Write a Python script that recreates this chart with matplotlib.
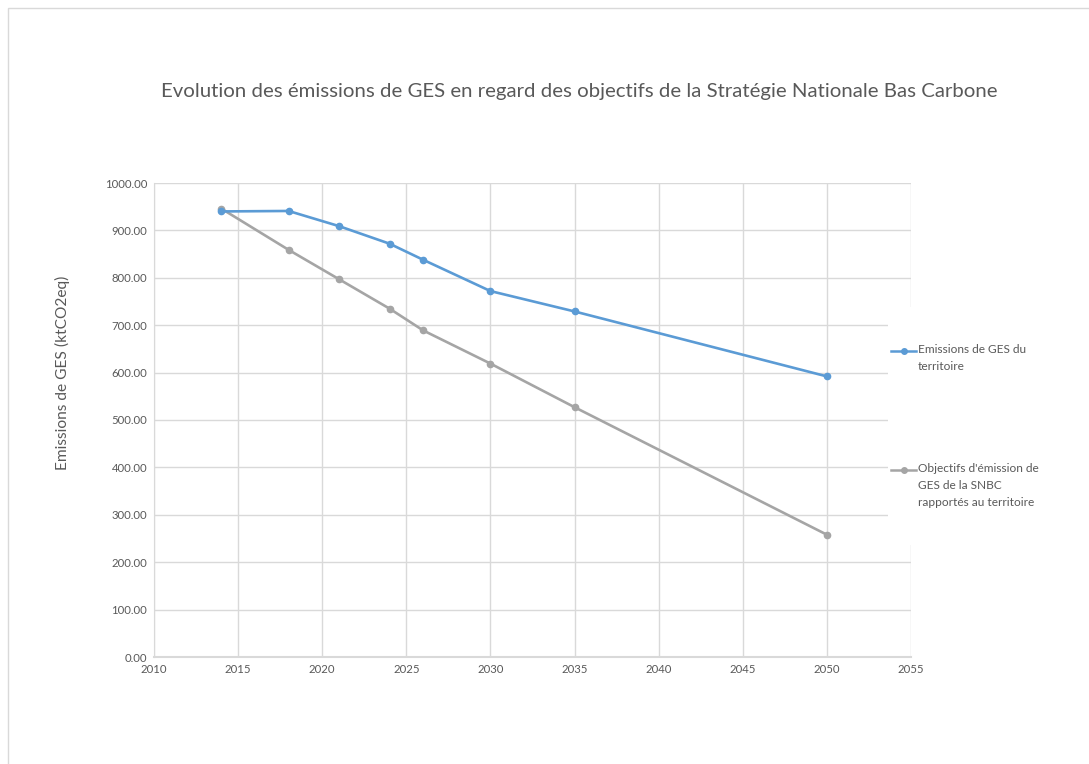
import matplotlib
matplotlib.use("Agg")
import matplotlib.pyplot as plt
from matplotlib.lines import Line2D
from matplotlib.patches import Rectangle

plt.rcParams['font.family'] = ['Lato', 'DejaVu Sans']

title = "Evolution des émissions de GES en regard des objectifs de la Stratégie Nationale Bas Carbone"
ylabel = "Emissions de GES (ktCO2eq)"

years = [2014, 2018, 2021, 2024, 2026, 2030, 2035, 2050]
emissions = [940, 941, 909, 872, 838, 772, 729, 592]
snbc = [946, 859, 797, 735, 689, 619, 527, 258]

label_emis = "Emissions de GES du\nterritoire"
label_snbc = "Objectifs d'émission de\nGES de la SNBC\nrapportés au territoire"

xticks = list(range(2010, 2056, 5))
yticks = list(range(0, 1001, 100))

BLUE = "#5B9BD5"
GREY = "#A5A5A5"
TXT = "#595959"
GRID = "#D9D9D9"

W, H = 1089, 764
fig = plt.figure(figsize=(W / 100, H / 100), dpi=100)
fig.patch.set_facecolor("white")

ax = fig.add_axes([154 / W, 1 - 657 / H, (911 - 154) / W, (657 - 183) / H])
ax.plot(years, snbc, color=GREY, lw=1.9, marker="o", ms=4.5, zorder=3)
ax.plot(years, emissions, color=BLUE, lw=1.9, marker="o", ms=4.5, zorder=4)

ax.set_xlim(2010, 2055)
ax.set_ylim(0, 1000)
ax.set_xticks(xticks)
ax.set_yticks(yticks)
ax.set_xticklabels([str(v) for v in xticks])
ax.set_yticklabels([f"{v:.2f}" for v in yticks])
ax.tick_params(axis="both", length=0, labelsize=8.2, colors=TXT, pad=5)
ax.grid(True, color=GRID, lw=1)
ax.set_axisbelow(True)
for s in ["top", "right"]:
    ax.spines[s].set_visible(False)
ax.spines["left"].set_color(GRID)
ax.spines["bottom"].set_color(GRID)
ax.spines["bottom"].set_linewidth(1.5)

fig.text(579 / W, 1 - 91 / H, title, ha="center", va="center", fontsize=14.7, color=TXT)
fig.text(62 / W, 1 - 373 / H, ylabel, ha="center", va="center", rotation=90,
         fontsize=11.2, color=TXT)

# border of chart area
fig.add_artist(Rectangle((8 / W, -0.05), 1.1, 1 - 8 / H + 0.05, transform=fig.transFigure,
                         facecolor="none", edgecolor=GRID, lw=1))

# legend background
fig.add_artist(Rectangle((888 / W, 1 - 545 / H), 200 / W, (545 - 307) / H,
                         transform=fig.transFigure, facecolor="white", edgecolor="none", zorder=5))

for y_px, col, lab in [(351, BLUE, label_emis), (470, GREY, label_snbc)]:
    yf = 1 - y_px / H
    fig.add_artist(Line2D([891 / W, 903.5 / W, 916 / W], [yf, yf, yf], color=col, lw=1.8,
                          marker="o", ms=4, markevery=[1], transform=fig.transFigure, zorder=6))
    fig.text(918 / W, yf + 7 / H, lab, ha="left", va="top", fontsize=8.6, color=TXT,
             linespacing=1.65, zorder=6)

fig.savefig("out.png", dpi=100, facecolor="white")
